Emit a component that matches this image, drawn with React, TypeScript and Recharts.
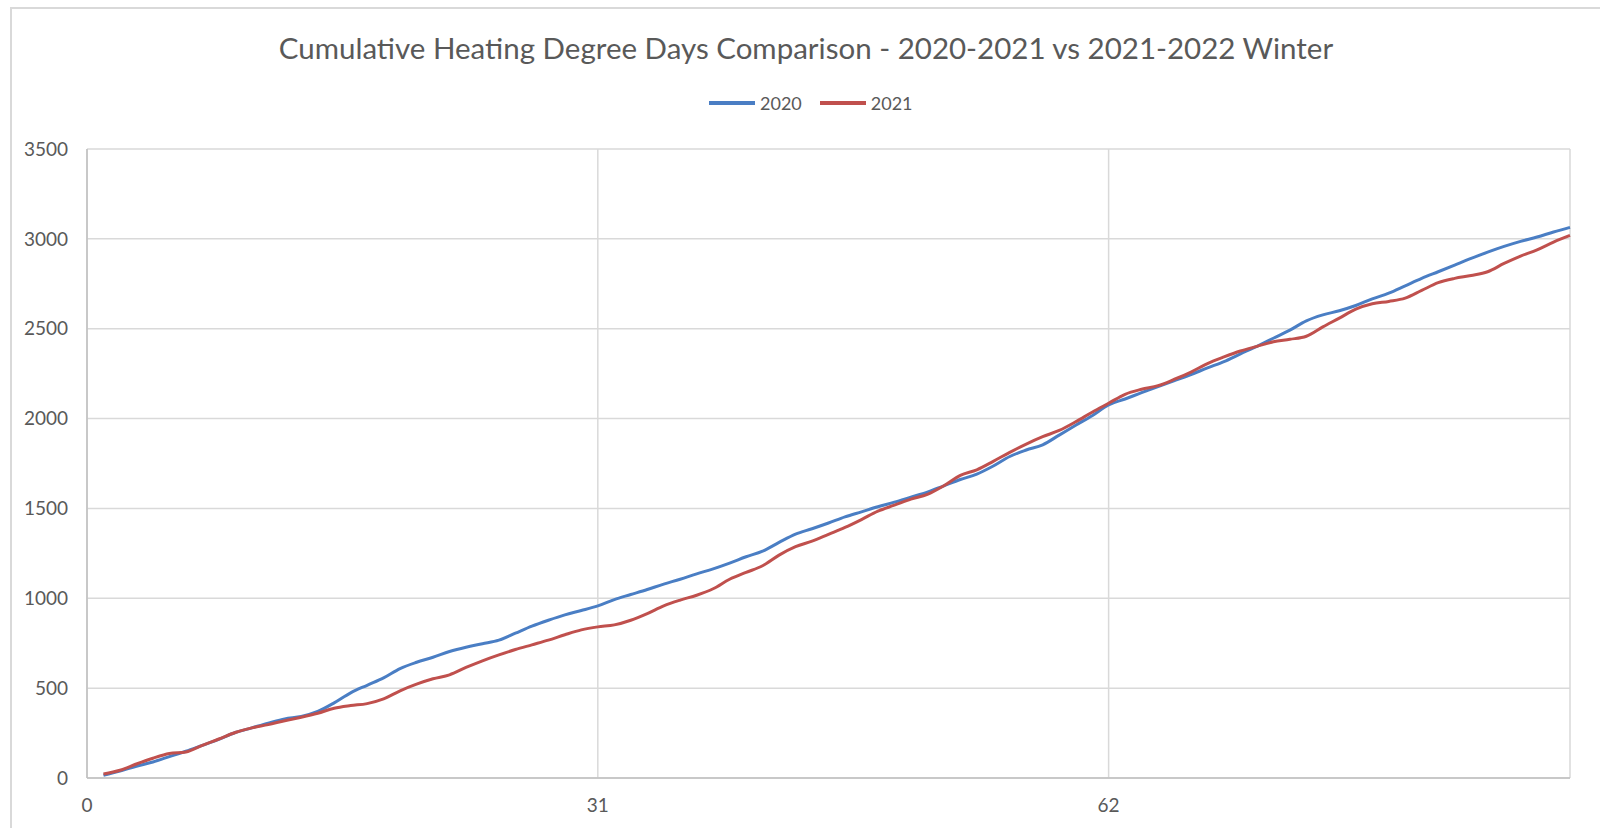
import React from 'react';
import { LineChart, Line, XAxis, YAxis, CartesianGrid } from 'recharts';

const TITLE = 'Cumulative Heating Degree Days Comparison - 2020-2021 vs 2021-2022 Winter';

const days = [
  1, 2, 3, 4, 5, 6, 7, 8, 9, 10, 11, 12, 13, 14, 15, 16, 17, 18, 19, 20,
  21, 22, 23, 24, 25, 26, 27, 28, 29, 30, 31, 32, 33, 34, 35, 36, 37, 38, 39, 40,
  41, 42, 43, 44, 45, 46, 47, 48, 49, 50, 51, 52, 53, 54, 55, 56, 57, 58, 59, 60,
  61, 62, 63, 64, 65, 66, 67, 68, 69, 70, 71, 72, 73, 74, 75, 76, 77, 78, 79, 80,
  81, 82, 83, 84, 85, 86, 87, 88, 89, 90,
];

const hdd2020 = [
  15, 39, 65, 89, 119, 149, 182, 215, 253, 279, 305, 329, 342, 370, 418, 474, 516, 557, 609, 644,
  672, 704, 728, 747, 767, 806, 845, 878, 908, 932, 958, 993, 1021, 1049, 1079, 1106, 1136, 1164, 1196, 1231,
  1262, 1311, 1357, 1387, 1419, 1453, 1481, 1509, 1535, 1563, 1591, 1626, 1661, 1691, 1736, 1789, 1825, 1854, 1908, 1963,
  2016, 2076, 2109, 2144, 2178, 2211, 2245, 2282, 2317, 2360, 2402, 2447, 2492, 2544, 2577, 2600, 2629, 2666, 2698, 2739,
  2780, 2817, 2854, 2891, 2926, 2958, 2986, 3010, 3038, 3064,
];

const hdd2021 = [
  22, 43, 78, 110, 136, 145, 182, 217, 253, 279, 297, 319, 338, 360, 388, 403, 414, 440, 485, 522,
  552, 574, 615, 652, 685, 715, 741, 767, 797, 824, 841, 852, 878, 915, 958, 990, 1017, 1053, 1106, 1144,
  1181, 1240, 1287, 1318, 1356, 1394, 1438, 1485, 1518, 1552, 1578, 1626, 1684, 1715, 1762, 1812, 1858, 1899, 1934, 1982,
  2035, 2085, 2135, 2163, 2183, 2219, 2259, 2306, 2343, 2376, 2402, 2427, 2441, 2458, 2510, 2559, 2609, 2639, 2652, 2670,
  2713, 2756, 2780, 2796, 2817, 2863, 2904, 2939, 2982, 3019,
];

const xTicks = [0, 31, 62];
const yTicks = [0, 500, 1000, 1500, 2000, 2500, 3000, 3500];

const series = [
  { key: 'y2020', name: '2020', color: '#4A7EC4' },
  { key: 'y2021', name: '2021', color: '#C0504D' },
];

const data = days.map((d, i) => ({ day: d, y2020: hdd2020[i], y2021: hdd2021[i] }));

const FONT = 'Lato, "Open Sans", sans-serif';
const TEXT = '#595959';

export default function App() {
  return (
    <div style={{ position: 'absolute', left: 0, top: 0, width: 1600, height: 828, background: '#fff', overflow: 'hidden', fontFamily: FONT }}>
      <div style={{ position: 'absolute', left: 10, top: 7, width: 1620, height: 840, border: '2px solid #d9d9d9', boxSizing: 'border-box' }} />
      <div style={{ position: 'absolute', left: 0, top: 30, width: 1612, textAlign: 'center', fontSize: 29.5, lineHeight: '36px', color: TEXT, whiteSpace: 'nowrap' }}>
        {TITLE}
      </div>
      <div style={{ position: 'absolute', left: 709, top: 92, display: 'flex', alignItems: 'center', fontSize: 18, color: TEXT }}>
        {series.map((s, i) => (
          <div key={s.key} style={{ display: 'flex', alignItems: 'center', marginLeft: i === 0 ? 0 : 18 }}>
            <div style={{ width: 46, height: 4, background: s.color, marginRight: 5 }} />
            <span>{s.name}</span>
          </div>
        ))}
      </div>
      <div style={{ position: 'absolute', left: 0, top: 0 }}>
        <LineChart width={1600} height={828} data={data} margin={{ top: 149, right: 30, bottom: 20, left: 0 }}>
          <CartesianGrid stroke="#d9d9d9" strokeWidth={1.5} />
          <XAxis
            dataKey="day"
            type="number"
            domain={[0, 90]}
            ticks={xTicks}
            height={30}
            axisLine={{ stroke: '#bfbfbf', strokeWidth: 1.5 }}
            tickLine={false}
            tickSize={0}
            tickMargin={21}
            tick={{ fill: TEXT, fontSize: 19, fontFamily: FONT }}
            interval={0}
          />
          <YAxis
            domain={[0, 3500]}
            ticks={yTicks}
            width={87}
            axisLine={{ stroke: '#bfbfbf', strokeWidth: 1.5 }}
            tickLine={false}
            tickSize={0}
            tickMargin={19}
            tick={{ fill: TEXT, fontSize: 19, fontFamily: FONT }}
            interval={0}
          />
          {series.map((s) => (
            <Line
              key={s.key}
              dataKey={s.key}
              name={s.name}
              type="monotone"
              stroke={s.color}
              strokeWidth={3}
              dot={false}
              activeDot={false}
              isAnimationActive={false}
            />
          ))}
        </LineChart>
      </div>
    </div>
  );
}
